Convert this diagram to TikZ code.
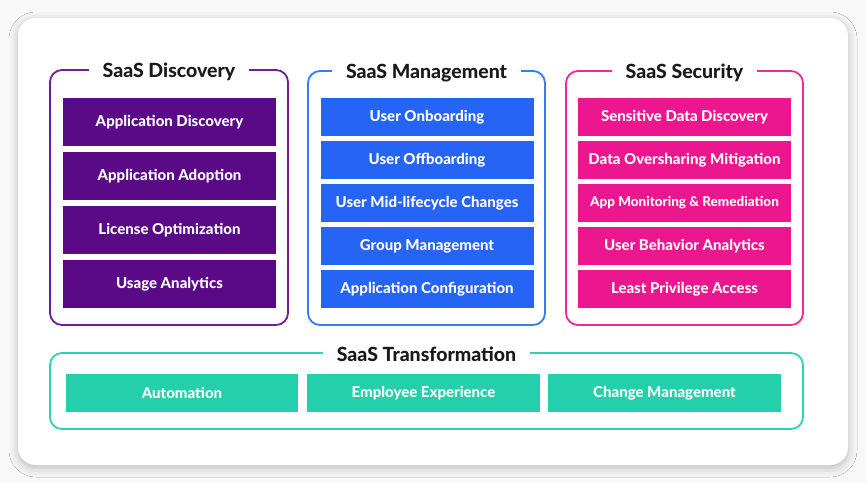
\documentclass[tikz,border=0pt]{standalone}
\usepackage{fontspec}
\setmainfont{Lato}[BoldFont={Lato Heavy}]
\usetikzlibrary{positioning,shadows.blur}
\definecolor{discfill}{RGB}{90,10,135}
\definecolor{discline}{RGB}{110,30,155}
\definecolor{mgmtfill}{RGB}{38,100,245}
\definecolor{mgmtline}{RGB}{50,125,245}
\definecolor{secfill}{RGB}{236,22,143}
\definecolor{secline}{RGB}{240,40,155}
\definecolor{trfill}{RGB}{36,207,171}
\definecolor{trline}{RGB}{45,210,178}
\definecolor{bggray}{RGB}{248,248,248}

\begin{document}
\begin{tikzpicture}[x=1pt,y=-1pt,
  card/.style={fill=white,rounded corners=18pt,minimum width=830pt,minimum height=447pt,
    blur shadow={shadow xshift=0pt,shadow yshift=-3pt,shadow blur radius=9pt,shadow opacity=25}},
  frame/.style={draw=#1,line width=1.8pt,rounded corners=12pt,inner sep=0pt},
  head/.style={fill=white,inner xsep=14pt,inner ysep=2pt,yshift=-2.5pt,font=\bfseries\fontsize{19.5}{22}\selectfont,text=black!90},
  box/.style={fill=#1,text=white,inner sep=0pt,outer sep=0pt,minimum width=213pt,font=\bfseries\fontsize{15}{17}\selectfont},
  tall/.style={minimum height=48pt},
  short/.style={minimum height=38pt}]
\useasboundingbox[fill=bggray] (0,0) rectangle (866,483);
\node (card) [card] at (433,241.5) {};

% SaaS Discovery
\node (disc) [frame=discline,minimum width=238pt,minimum height=255pt] at (169,197.5) {};
\node (disct) [head] at (disc.north) {SaaS Discovery};
\node (d1) [box=discfill,tall] at (169.5,122) {Application Discovery};
\node (d2) [box=discfill,tall,below=6pt of d1] {Application Adoption};
\node (d3) [box=discfill,tall,below=6pt of d2] {License Optimization};
\node (d4) [box=discfill,tall,below=6pt of d3] {Usage Analytics};

% SaaS Management
\node (mgmt) [frame=mgmtline,minimum width=237pt,minimum height=254pt] at (426.5,198) {};
\node (mgmtt) [head] at (mgmt.north) {SaaS Management};
\node (m1) [box=mgmtfill,short] at (427,117) {User Onboarding};
\node (m2) [box=mgmtfill,short,below=5pt of m1] {User Offboarding};
\node (m3) [box=mgmtfill,short,below=5pt of m2] {User Mid-lifecycle Changes};
\node (m4) [box=mgmtfill,short,below=5pt of m3] {Group Management};
\node (m5) [box=mgmtfill,short,below=5pt of m4] {Application Configuration};

% SaaS Security
\node (sec) [frame=secline,minimum width=237pt,minimum height=254pt] at (684.5,198) {};
\node (sect) [head] at (sec.north) {SaaS Security};
\node (s1) [box=secfill,short] at (684.5,117) {Sensitive Data Discovery};
\node (s2) [box=secfill,short,below=5pt of s1] {Data Oversharing Mitigation};
\node (s3) [box=secfill,short,below=5pt of s2,font=\bfseries\fontsize{13.5}{15}\selectfont] {App Monitoring \& Remediation};
\node (s4) [box=secfill,short,below=5pt of s3] {User Behavior Analytics};
\node (s5) [box=secfill,short,below=5pt of s4] {Least Privilege Access};

% SaaS Transformation
\node (tr) [frame=trline,minimum width=753pt,minimum height=76pt] at (426.5,391) {};
\node (trt) [head] at (tr.north) {SaaS Transformation};
\node (t1) [box=trfill,short,minimum width=232pt] at (182,393) {Automation};
\node (t2) [box=trfill,short,minimum width=233pt] at (423.5,393) {Employee Experience};
\node (t3) [box=trfill,short,minimum width=233pt] at (664.5,393) {Change Management};
\end{tikzpicture}
\end{document}
